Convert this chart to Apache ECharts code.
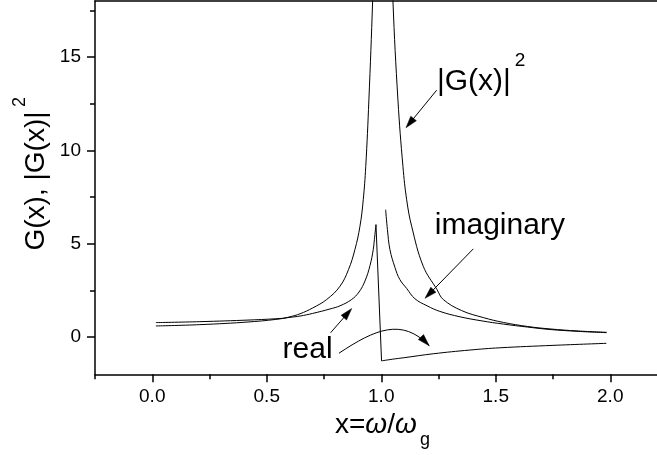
<!DOCTYPE html>
<html>
<head>
<meta charset="utf-8">
<script src="https://cdn.jsdelivr.net/npm/echarts@6/dist/echarts.min.js"></script>
<style>
  html, body { margin: 0; padding: 0; background: #fff; }
  #chart { width: 657px; height: 455px; }
</style>
</head>
<body>
<div id="chart"></div>
<script>
// Tick positions
const xMajorTicks = [0, 0.5, 1.0, 1.5, 2.0];
const xMinorTicks = [-0.25, 0.25, 0.75, 1.25, 1.75, 2.25];
const yMajorTicks = [0, 5, 10, 15];
const yMinorTicks = [2.5, 7.5, 12.5, 17.5];

// |G(x)|^2, branch below the resonance (x < 1)
const absSquaredBelow = [
  [0.016, 0.59], [0.208, 0.66], [0.427, 0.81], [0.558, 0.97], [0.601, 1.08], [0.645, 1.24],
  [0.70, 1.55], [0.762, 2.01], [0.82, 2.72], [0.857, 3.61], [0.885, 4.68], [0.907, 5.93],
  [0.9214, 7.35], [0.9323, 9.13], [0.946, 12.69], [0.9624, 18.0], [0.972, 22.0]
];
// |G(x)|^2, branch above the resonance (x > 1)
const absSquaredAbove = [
  [1.043, 22.0], [1.0511, 18.0], [1.0729, 12.69], [1.0948, 9.13], [1.111, 7.35], [1.1328, 5.93],
  [1.1834, 3.79], [1.243, 2.55], [1.2707, 2.01], [1.35, 1.42], [1.4454, 1.04], [1.533, 0.78],
  [1.64, 0.56], [1.737, 0.43], [1.86, 0.32], [1.984, 0.25]
];
// Real part of G(x) below the resonance, up to its peak
const realBelow = [
  [0.016, 0.77], [0.208, 0.82], [0.427, 0.91], [0.558, 0.99], [0.601, 1.05], [0.645, 1.12],
  [0.70, 1.26], [0.776, 1.50], [0.82, 1.67], [0.871, 2.01], [0.903, 2.41], [0.929, 3.00],
  [0.951, 3.83], [0.965, 4.68], [0.970, 5.22], [0.977, 6.02]
];
// Real part of G(x) above the resonance, from its minimum
const realAbove = [
  [1.0013, -1.28], [1.05, -1.19], [1.10, -1.11], [1.227, -0.90], [1.387, -0.70],
  [1.518, -0.58], [1.75, -0.45], [1.983, -0.34]
];
// Imaginary part of G(x), non-zero above the resonance only
const imagPart = [
  [1.0192, 6.82], [1.027, 5.75], [1.038, 4.68], [1.06, 3.72], [1.081, 3.08], [1.111, 2.60],
  [1.147, 2.05], [1.20, 1.67], [1.256, 1.37], [1.344, 1.08], [1.44, 0.86], [1.533, 0.69],
  [1.64, 0.53], [1.737, 0.40], [1.86, 0.30], [1.984, 0.23]
];

const FONT = "'Liberation Sans', Arial, Helvetica, sans-serif";
const INK = '#000';

const chart = echarts.init(document.getElementById('chart'), null, { renderer: 'canvas' });

const axisLineStyle = { color: INK, width: 1.5 };
const tickStyle = { color: INK, width: 1.5 };

function lineSeries(data, smooth) {
  return {
    type: 'line', data: data, xAxisIndex: 0, yAxisIndex: 0,
    showSymbol: false, symbol: 'none', smooth: smooth, silent: true,
    lineStyle: { color: INK, width: 1 }, clip: true, animation: false
  };
}

// the jump of the real part across the resonance
const realJump = [realBelow[realBelow.length - 1], realAbove[0]];

chart.setOption({
  animation: false,
  backgroundColor: '#fff',
  grid: { left: 95, top: 1, right: -10.5, bottom: 80.7, containLabel: false, outerBoundsMode: 'none' },
  xAxis: [
    {
      type: 'value', min: -0.25, max: 2.25, position: 'bottom',
      axisLine: { show: true, onZero: false, lineStyle: axisLineStyle },
      axisTick: { show: true, customValues: xMajorTicks, length: 8, lineStyle: tickStyle },
      axisLabel: { show: true, customValues: xMajorTicks, formatter: v => v.toFixed(1),
                   fontSize: 19, fontFamily: FONT, color: INK, margin: 13 },
      splitLine: { show: false }
    },
    {
      type: 'value', min: -0.25, max: 2.25, position: 'bottom',
      axisLine: { show: false, onZero: false },
      axisTick: { show: true, customValues: xMinorTicks, length: 5, lineStyle: tickStyle },
      axisLabel: { show: false }, splitLine: { show: false }
    },
    {
      type: 'value', min: -0.25, max: 2.25, position: 'top',
      axisLine: { show: true, onZero: false, lineStyle: axisLineStyle },
      axisTick: { show: false }, axisLabel: { show: false }, splitLine: { show: false }
    }
  ],
  yAxis: [
    {
      type: 'value', min: -2, max: 18, position: 'left',
      axisLine: { show: true, onZero: false, lineStyle: axisLineStyle },
      axisTick: { show: true, customValues: yMajorTicks, length: 8, lineStyle: tickStyle },
      axisLabel: { show: true, customValues: yMajorTicks, formatter: v => String(v),
                   fontSize: 19, fontFamily: FONT, color: INK, margin: 14 },
      splitLine: { show: false }
    },
    {
      type: 'value', min: -2, max: 18, position: 'left',
      axisLine: { show: false, onZero: false },
      axisTick: { show: true, customValues: yMinorTicks, length: 5, lineStyle: tickStyle },
      axisLabel: { show: false }, splitLine: { show: false }
    }
  ],
  series: [
    lineSeries(absSquaredBelow, 0.4),
    lineSeries(absSquaredAbove, 0.4),
    lineSeries(realBelow, 0.4),
    lineSeries(realJump, false),
    lineSeries(realAbove, 0.4),
    lineSeries(imagPart, 0.4)
  ]
});

// ---- annotations: labels and arrows placed in data units ----
const toPx = p => chart.convertToPixel({ xAxisIndex: 0, yAxisIndex: 0 }, p);

const measureCtx = document.createElement('canvas').getContext('2d');
function textWidth(text, font) {
  measureCtx.font = font;
  return measureCtx.measureText(text).width;
}

function arrowHead(tip, from, len, halfW) {
  const dx = tip[0] - from[0], dy = tip[1] - from[1];
  const d = Math.hypot(dx, dy) || 1;
  const ux = dx / d, uy = dy / d;
  const bx = tip[0] - ux * len, by = tip[1] - uy * len;
  return {
    type: 'polygon', silent: true,
    shape: { points: [tip, [bx - uy * halfW, by + ux * halfW], [bx + uy * halfW, by - ux * halfW]] },
    style: { fill: INK, stroke: INK, lineWidth: 0.5 }
  };
}

function straightArrow(tailData, tipData) {
  const a = toPx(tailData), b = toPx(tipData);
  const headLen = 12;
  const d = Math.hypot(b[0] - a[0], b[1] - a[1]);
  const k = (d - headLen + 2) / d;
  return [
    { type: 'line', silent: true,
      shape: { x1: a[0], y1: a[1], x2: a[0] + (b[0] - a[0]) * k, y2: a[1] + (b[1] - a[1]) * k },
      style: { stroke: INK, lineWidth: 1 } },
    arrowHead(b, a, headLen, 3.6)
  ];
}

function curvedArrow(p0d, c1d, c2d, p3d) {
  const p0 = toPx(p0d), c1 = toPx(c1d), c2 = toPx(c2d), p3 = toPx(p3d);
  return [
    { type: 'bezierCurve', silent: true,
      shape: { x1: p0[0], y1: p0[1], cpx1: c1[0], cpy1: c1[1], cpx2: c2[0], cpy2: c2[1], x2: p3[0], y2: p3[1] },
      style: { stroke: INK, lineWidth: 1, fill: null } },
    arrowHead(p3, c2, 12, 3.6)
  ];
}

const LABEL_FONT = '30px ' + FONT;
function label(text, anchorData) {
  const p = toPx(anchorData);
  return {
    type: 'text', silent: true, x: p[0], y: p[1],
    style: { text: text, font: LABEL_FONT, fill: INK, align: 'left', verticalAlign: 'middle' }
  };
}

const gAnchor = toPx([1.243, 13.7]);
const gWidth = textWidth('|G(x)|', LABEL_FONT);
const elements = [
  label('|G(x)|', [1.243, 13.7]),
  { type: 'text', silent: true, x: gAnchor[0] + gWidth + 4, y: gAnchor[1] - 20,
    style: { text: '2', font: '19px ' + FONT, fill: INK, align: 'left', verticalAlign: 'middle' } },
  label('imaginary', [1.234, 5.96]),
  label('real', [0.569, -0.66]),
  ...straightArrow([1.242, 13.22], [1.108, 11.21]),
  ...straightArrow([1.402, 4.72], [1.191, 2.07]),
  ...straightArrow([0.779, 0.23], [0.871, 1.52]),
  ...curvedArrow([0.8153, -0.87], [0.9725, 0.41], [1.0904, 1.05], [1.2096, -0.47]),
  // x-axis title
  { type: 'text', silent: true, x: 335, y: 425,
    style: { text: '{n|x=}{w|ω}{n|/}{w|ω}', fill: INK, align: 'left', verticalAlign: 'middle',
             rich: { n: { font: '28px ' + FONT, fill: INK }, w: { font: 'italic 28px ' + FONT, fill: INK } } } },
  { type: 'text', silent: true, x: 420, y: 440,
    style: { text: 'g', font: '18px ' + FONT, fill: INK, align: 'left', verticalAlign: 'middle' } },
  // y-axis title, rotated to read upward
  { type: 'text', silent: true, x: 36, y: 181, rotation: Math.PI / 2,
    style: { text: 'G(x), |G(x)|', font: '28px ' + FONT, fill: INK, align: 'center', verticalAlign: 'middle' } },
  { type: 'text', silent: true, x: 20, y: 102, rotation: Math.PI / 2,
    style: { text: '2', font: '18px ' + FONT, fill: INK, align: 'center', verticalAlign: 'middle' } }
];

chart.setOption({ graphic: { elements: elements } });
</script>
</body>
</html>
